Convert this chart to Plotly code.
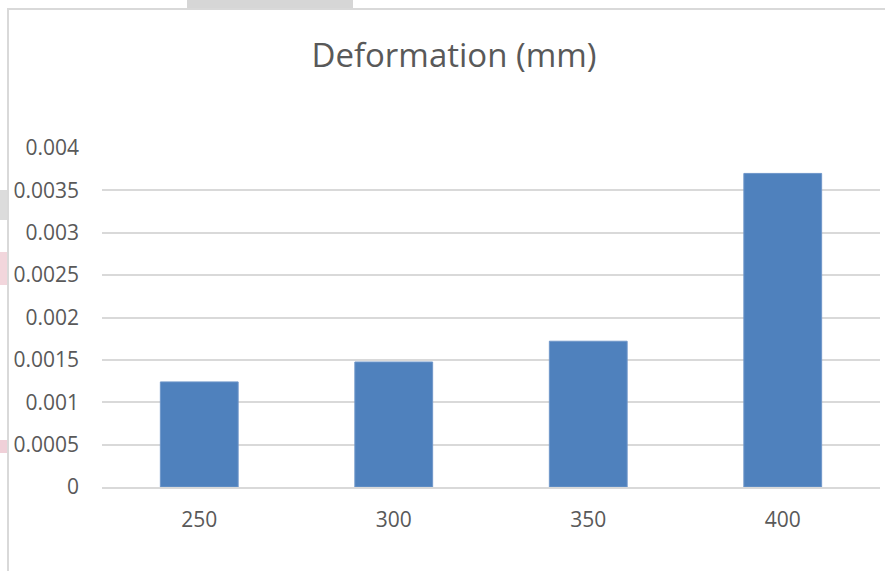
import plotly.graph_objects as go

# Deformation per load case
categories = ["250", "300", "350", "400"]
deformation = [0.00124, 0.001475, 0.00172, 0.0037]
y_ticks = [0, 0.0005, 0.001, 0.0015, 0.002, 0.0025, 0.003, 0.0035, 0.004]
y_tick_text = ["0", "0.0005", "0.001", "0.0015", "0.002", "0.0025", "0.003", "0.0035", "0.004"]

W, H = 885, 571
L, R, T, B = 102, 5, 148, 84
pw, ph = W - L - R, H - T - B


def px_x(px):
    return (px - L) / pw


def px_y(py):
    return (H - B - py) / ph


fig = go.Figure(
    go.Bar(
        x=categories,
        y=deformation,
        marker=dict(color="#4f81bd", line=dict(color="#6f96c9", width=1)),
        width=0.4,
    )
)

shapes = [
    # chart frame
    dict(type="rect", xref="paper", yref="paper",
         x0=px_x(8), x1=px_x(W + 20), y0=px_y(H + 20), y1=px_y(9),
         line=dict(color="#d9d9d9", width=2), fillcolor="rgba(0,0,0,0)", layer="below"),
    # light edges outside the chart frame
    dict(type="rect", xref="paper", yref="paper",
         x0=px_x(187), x1=px_x(353), y0=px_y(8), y1=px_y(0),
         line=dict(width=0), fillcolor="#d6d6d6", layer="below"),
    dict(type="rect", xref="paper", yref="paper",
         x0=px_x(0), x1=px_x(7), y0=px_y(220), y1=px_y(190),
         line=dict(width=0), fillcolor="#dcdcdc", layer="below"),
    dict(type="rect", xref="paper", yref="paper",
         x0=px_x(0), x1=px_x(7), y0=px_y(285), y1=px_y(252),
         line=dict(width=0), fillcolor="#f2d6dc", layer="below"),
    dict(type="rect", xref="paper", yref="paper",
         x0=px_x(0), x1=px_x(7), y0=px_y(453), y1=px_y(440),
         line=dict(width=0), fillcolor="#f0d0d8", layer="below"),
]

fig.update_layout(
    width=W, height=H,
    margin=dict(l=L, r=R, t=T, b=B, pad=0),
    paper_bgcolor="white",
    plot_bgcolor="white",
    showlegend=False,
    shapes=shapes,
    font=dict(family="'Open Sans', sans-serif", color="#595959"),
    title=dict(
        text="Deformation (mm)",
        x=px_x(454), xref="paper", xanchor="center",
        y=1 - 55 / H, yanchor="middle",
        font=dict(size=33, color="#595959"),
    ),
    xaxis=dict(
        showgrid=False,
        showline=True, linecolor="#d9d9d9", linewidth=2,
        ticks="", tickfont=dict(size=21, color="#595959"),
        ticklabelstandoff=13,
    ),
    yaxis=dict(
        range=[0, 0.004],
        tickvals=y_ticks, ticktext=y_tick_text,
        showgrid=True, gridcolor="#d9d9d9", gridwidth=2,
        zeroline=False, showline=False,
        ticks="", tickfont=dict(size=21, color="#595959"),
        ticklabelstandoff=22,
    ),
)

fig.write_html("out.html")
